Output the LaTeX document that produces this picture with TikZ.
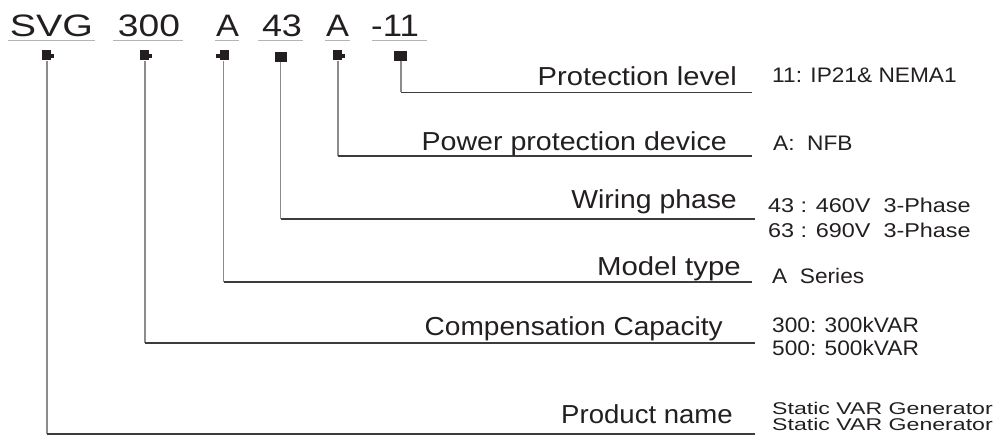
\documentclass[tikz,border=0pt]{standalone}
\usepackage{fontspec}
\setmainfont{Liberation Sans}
\definecolor{ink}{HTML}{231F20}
\definecolor{vgray}{HTML}{8C8C8C}
\definecolor{hdark}{HTML}{3C3C3C}
\definecolor{ulgray}{HTML}{B4B4B4}
\tikzset{
  code/.style={anchor=base, inner sep=0pt, text=ink, font=\fontsize{31}{36}\selectfont},
  lab/.style={anchor=base east, inner sep=0pt, text=ink, font=\fontsize{26}{30}\selectfont},
  desc/.style={anchor=base west, inner sep=0pt, text=ink, font=\fontsize{21}{24}\selectfont},
  descs/.style={desc, font=\fontsize{20}{24}\selectfont},
  desct/.style={desc, font=\fontsize{17}{20}\selectfont},
  tagbox/.style={rectangle, fill=ink, inner sep=0pt, minimum width=9pt, minimum height=10pt},
  tagsq/.style={rectangle, fill=ink, inner sep=0pt, minimum width=12pt, minimum height=10pt},
  vline/.style={draw=vgray, line width=1.5pt},
  hline/.style={draw=hdark, line width=1.5pt},
  uline/.style={draw=ulgray, line width=1pt}
}
\begin{document}
\begin{tikzpicture}[x=1pt,y=-1pt]
\useasboundingbox (0,0) rectangle (1000,441);
% code letters
\node[code] (cSVG) at (51.5,37) {\scalebox{1.27}[1]{SVG}};
\node[code] (c300) at (149,37) {\scalebox{1.2}[1]{300}};
\node[code] (cA1) at (227.5,37) {\scalebox{1.11}[1]{A}};
\node[code] (c43) at (282,37) {\scalebox{1.16}[1]{43}};
\node[code] (cA2) at (337.5,37) {\scalebox{1.11}[1]{A}};
\node[code] (c11) at (395,37) {\scalebox{1.12}[1]{-11}};
% underlines
\draw[uline] (8,41) -- (95,41);
\draw[uline] (113,41) -- (183,41);
\draw[uline] (215,41) -- (239,41);
\draw[uline] (258,41) -- (303,41);
\draw[uline] (325,41) -- (350,41);
\draw[uline] (372,41) -- (427,41);
% markers
\node[tagbox] (m1) at (46,55.5) {};
\fill[ink] (m1.east) ++(0,-1) rectangle ++(3.5,4);
\node[tagbox] (m2) at (144,55.5) {};
\fill[ink] (m2.east) ++(0,-1) rectangle ++(3.5,4);
\node[tagbox] (m3) at (224.5,55.5) {};
\fill[ink] (m3.west) ++(0,-1) rectangle ++(-3.5,4);
\node[tagsq] (m4) at (281,57) {};
\node[tagbox] (m5) at (337,55.5) {};
\fill[ink] (m5.east) ++(0,-1) rectangle ++(3.5,4);
\node[tagsq, minimum width=13pt] (m6) at (400.5,56) {};
% corners and ends
\coordinate (k1) at (47,434);    \coordinate (e1) at (755,434);
\coordinate (k2) at (145,343);   \coordinate (e2) at (755,343);
\coordinate (k3) at (223.5,282); \coordinate (e3) at (752,282);
\coordinate (k4) at (280.5,219); \coordinate (e4) at (755,219);
\coordinate (k5) at (338,156);   \coordinate (e5) at (752,156);
\coordinate (k6) at (401,92.5);  \coordinate (e6) at (752,92.5);
% connectors
\draw[vline] (m1.south -| k1) -- (k1);
\draw[hline] (k1) -- (e1);
\draw[vline] (m2.south -| k2) -- (k2);
\draw[hline] (k2) -- (e2);
\draw[vline] (m3.south -| k3) -- (k3);
\draw[hline] (k3) -- (e3);
\draw[vline] (m4.south -| k4) -- (k4);
\draw[hline] (k4) -- (e4);
\draw[vline] (m5.south -| k5) -- (k5);
\draw[hline] (k5) -- (e5);
\draw[vline] (m6.south -| k6) -- (k6);
\draw[hline] (k6) -- (e6);
% labels
\node[lab] (l6) at (737,86)  {\scalebox{1.12}[1]{Protection level}};
\node[lab] (l5) at (727,150) {\scalebox{1.1}[1]{Power protection device}};
\node[lab] (l4) at (737,208) {\scalebox{1.09}[1]{Wiring phase}};
\node[lab] (l3) at (741,275) {\scalebox{1.13}[1]{Model type}};
\node[lab] (l2) at (723,335) {\scalebox{1.08}[1]{Compensation Capacity}};
\node[lab] (l1) at (733,423) {\scalebox{1.06}[1]{Product name}};
% descriptions
\node[desc] (d6) at (772,83) {\scalebox{1.08}[1]{11: IP21\& NEMA1}};
\node[desc] (d5) at (773,150) {\scalebox{1.08}[1]{A:\ \ NFB}};
\node[descs] (d4a) at (768,212) {\scalebox{1.17}[1]{43 : 460V\ \ 3-Phase}};
\node[descs] (d4b) at (768,237) {\scalebox{1.17}[1]{63 : 690V\ \ 3-Phase}};
\node[desc] (d3) at (772,283) {\scalebox{1.08}[1]{A\ \ Series}};
\node[desc] (d2a) at (772,332) {\scalebox{1.08}[1]{300: 300kVAR}};
\node[desc] (d2b) at (772,355) {\scalebox{1.08}[1]{500: 500kVAR}};
\node[desct] (d1a) at (772,414) {\scalebox{1.36}[1]{Static VAR Generator}};
\node[desct] (d1b) at (772,430) {\scalebox{1.36}[1]{Static VAR Generator}};
\end{tikzpicture}
\end{document}
